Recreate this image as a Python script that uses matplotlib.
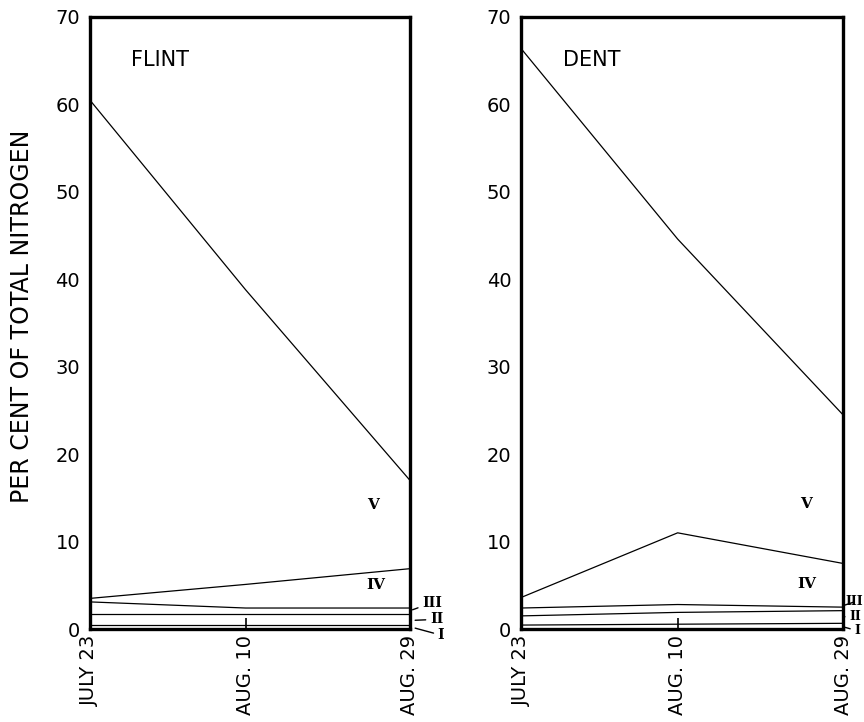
import matplotlib
matplotlib.use("Agg")
import matplotlib.pyplot as plt
from matplotlib.transforms import ScaledTranslation

# sampling dates (days after July 23) and their labels
days = [0, 18, 37]
date_labels = ["JULY 23", "AUG. 10", "AUG. 29"]

# cumulative per cent of total nitrogen, upper boundary of each fraction
flint_I = [0.5, 0.5, 0.5]
flint_II = [1.7, 1.7, 1.7]
flint_III = [3.1, 2.4, 2.4]
flint_IV = [3.5, 5.1, 6.9]
flint_V = [60.5, 38.8, 17.0]

dent_I = [0.45, 0.55, 0.65]
dent_II = [1.5, 1.9, 2.1]
dent_III = [2.4, 2.8, 2.5]
dent_IV = [3.6, 11.0, 7.5]
dent_V = [66.4, 44.6, 24.5]

y_ticks = [0, 10, 20, 30, 40, 50, 60, 70]

fig = plt.figure(figsize=(8.64, 7.22), dpi=100)
ax_flint = fig.add_axes([0.104, 0.1288, 0.3705, 0.8477])
ax_dent = fig.add_axes([0.603, 0.1288, 0.3727, 0.8477])

roman = dict(family="DejaVu Serif", fontweight="bold")
shift_right = ScaledTranslation(5 / 100, 0, fig.dpi_scale_trans)


def draw_panel(ax, title, series, band_labels, side_labels, side_size):
    for vals in series:
        ax.plot(days, vals, color="black", lw=0.9, clip_on=False)
    ax.set_xlim(days[0], days[-1])
    ax.set_ylim(0, 70)
    ax.set_yticks(y_ticks)
    ax.set_yticklabels([str(t) for t in y_ticks], fontsize=14)
    ax.set_xticks(days)
    ax.set_xticklabels(date_labels, rotation=90, fontsize=14, va="top")
    for lab in ax.get_xticklabels():
        lab.set_transform(lab.get_transform() + shift_right)
    ax.tick_params(axis="y", length=0, pad=7)
    ax.tick_params(axis="x", direction="in", length=8, width=1.2, pad=4)
    for sp in ax.spines.values():
        sp.set_linewidth(2.4)
    ax.text(0.13, 0.93, title, transform=ax.transAxes, fontsize=15,
            va="center")
    for txt, x, y in band_labels:
        ax.text(x, y, txt, ha="center", va="center", fontsize=11, **roman)
    for txt, xy, xytext in side_labels:
        ax.annotate(txt, xy=xy, xytext=xytext, xycoords="data",
                    textcoords="data", ha="left", va="center",
                    annotation_clip=False, fontsize=side_size,
                    arrowprops=dict(arrowstyle="-", lw=1.0, color="black",
                                    shrinkA=1, shrinkB=0),
                    **roman)


draw_panel(
    ax_flint, "FLINT",
    [flint_I, flint_II, flint_III, flint_IV, flint_V],
    [("V", 32.7, 14.2), ("IV", 33.0, 5.0)],
    [("III", (37.3, 2.2), (38.4, 3.0)),
     ("II", (37.6, 1.0), (39.3, 1.1)),
     ("I", (37.6, 0.1), (40.2, -0.7))],
    10,
)
draw_panel(
    ax_dent, "DENT",
    [dent_I, dent_II, dent_III, dent_IV, dent_V],
    [("V", 32.8, 14.3), ("IV", 32.8, 5.1)],
    [("III", (37.1, 2.7), (37.3, 3.1)),
     ("II", (37.2, 1.4), (37.7, 1.4)),
     ("I", (37.2, 0.2), (38.3, -0.2))],
    9,
)

fig.text(0.025, 0.562, "PER CENT OF TOTAL NITROGEN", rotation=90,
         ha="center", va="center", fontsize=17)

fig.savefig("out.png", dpi=100)
